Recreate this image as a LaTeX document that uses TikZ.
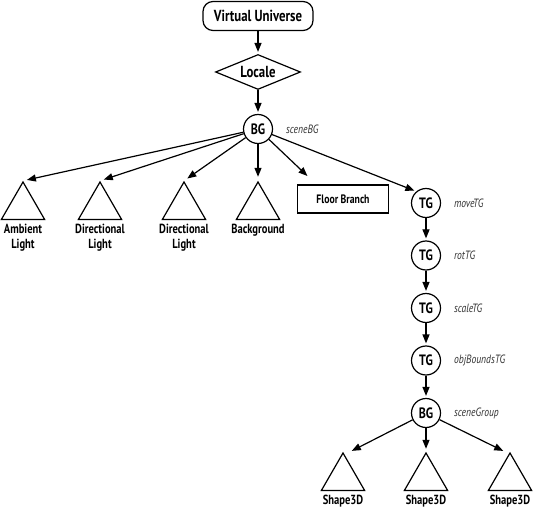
\documentclass[tikz,border=0pt]{standalone}
\usepackage{fontspec}
\setmainfont{PT Sans}[FakeStretch=0.8]
\usepackage{tikz}
\usetikzlibrary{arrows.meta,positioning,shapes.geometric}
\tikzstyle{universe}=[rectangle,rounded corners=10pt,draw,minimum width=110pt,minimum height=29pt,font=\bfseries\fontsize{16}{18}\selectfont]
\tikzstyle{localebox}=[diamond,draw,aspect=2.4,minimum width=85pt,minimum height=35pt,inner sep=0pt,font=\bfseries\fontsize{16}{18}\selectfont]
\tikzstyle{groupnode}=[circle,draw,minimum size=29pt,inner sep=0pt,font=\bfseries\fontsize{15}{17}\selectfont]
\tikzstyle{leaf}=[regular polygon,regular polygon sides=3,draw,minimum size=50pt,inner sep=0pt]
\tikzstyle{branchbox}=[rectangle,draw,minimum width=91pt,minimum height=28pt,font=\bfseries\fontsize{12.2}{14}\selectfont]
\tikzstyle{tglabel}=[font=\itshape\fontsize{12}{14}\selectfont,text=black!80]
\tikzstyle{leaflabel}=[align=center,font=\bfseries\fontsize{13.2}{15}\selectfont,label distance=0pt]

\begin{document}
\begin{tikzpicture}[x=1pt,y=-1pt,->,>={Triangle[length=9pt,width=7pt]},shorten >=2pt,line width=1.2pt]
  \useasboundingbox (0,0) rectangle (540,510);

  \node[universe]      (vu) at (258,16)                     {Virtual Universe};
  \node[localebox]     (locale) [below of=vu,node distance=56pt] {Locale};
  \node[groupnode]     (bg) [below of=locale,node distance=57pt] {BG};
  \node[tglabel,anchor=west] (bgname) [right=9pt of bg]    {sceneBG};

  \node[leaf,label={[leaflabel]below:Ambient\\Light}]      (amb)  at (23,207)  {};
  \node[leaf,label={[leaflabel]below:Directional\\Light}]  (dir1) at (100,207) {};
  \node[leaf,label={[leaflabel]below:Directional\\Light}]  (dir2) at (184,207) {};
  \node[leaf,label={[leaflabel]below:Background}]          (bgnd) at (258,207) {};
  \node[branchbox]     (floor) at (343,199)                  {Floor Branch};

  \node[groupnode]     (move)   at (426,203)                 {TG};
  \node[groupnode]     (rot)    [below of=move,node distance=52.5pt]  {TG};
  \node[groupnode]     (scale)  [below of=rot,node distance=52.5pt]   {TG};
  \node[groupnode]     (bounds) [below of=scale,node distance=52.5pt] {TG};
  \node[groupnode]     (sg)     [below of=bounds,node distance=52.5pt] {BG};
  \node[tglabel,anchor=west] (movename)   [right=9pt of move]   {moveTG};
  \node[tglabel,anchor=west] (rotname)    [right=9pt of rot]    {rotTG};
  \node[tglabel,anchor=west] (scalename)  [right=9pt of scale]  {scaleTG};
  \node[tglabel,anchor=west] (boundsname) [right=9pt of bounds] {objBoundsTG};
  \node[tglabel,anchor=west] (sgname)     [right=9pt of sg]     {sceneGroup};

  \node[leaf,label={[leaflabel]below:Shape3D}] (s2) [below of=sg,node distance=65pt] {};
  \node[leaf,label={[leaflabel]below:Shape3D}] (s1) [left of=s2,node distance=83pt]  {};
  \node[leaf,label={[leaflabel]below:Shape3D}] (s3) [right of=s2,node distance=84pt] {};

  \path (vu) edge (locale)
        (locale) edge (bg)
        (bg) edge[shorten >=4pt] (amb.corner 1)
             edge[shorten >=4pt] (dir1.corner 1)
             edge[shorten >=4pt] (dir2.corner 1)
             edge[shorten >=4pt] (bgnd.corner 1)
             edge ([xshift=12pt,yshift=7pt]floor.north west)
             edge (move.130)
        (move) edge (rot)
        (rot) edge (scale)
        (scale) edge (bounds)
        (bounds) edge (sg)
        (sg) edge ([xshift=7pt]s1.corner 1)
             edge[shorten >=3pt] (s2.corner 1)
             edge ([xshift=-5pt]s3.corner 1);
\end{tikzpicture}
\end{document}
